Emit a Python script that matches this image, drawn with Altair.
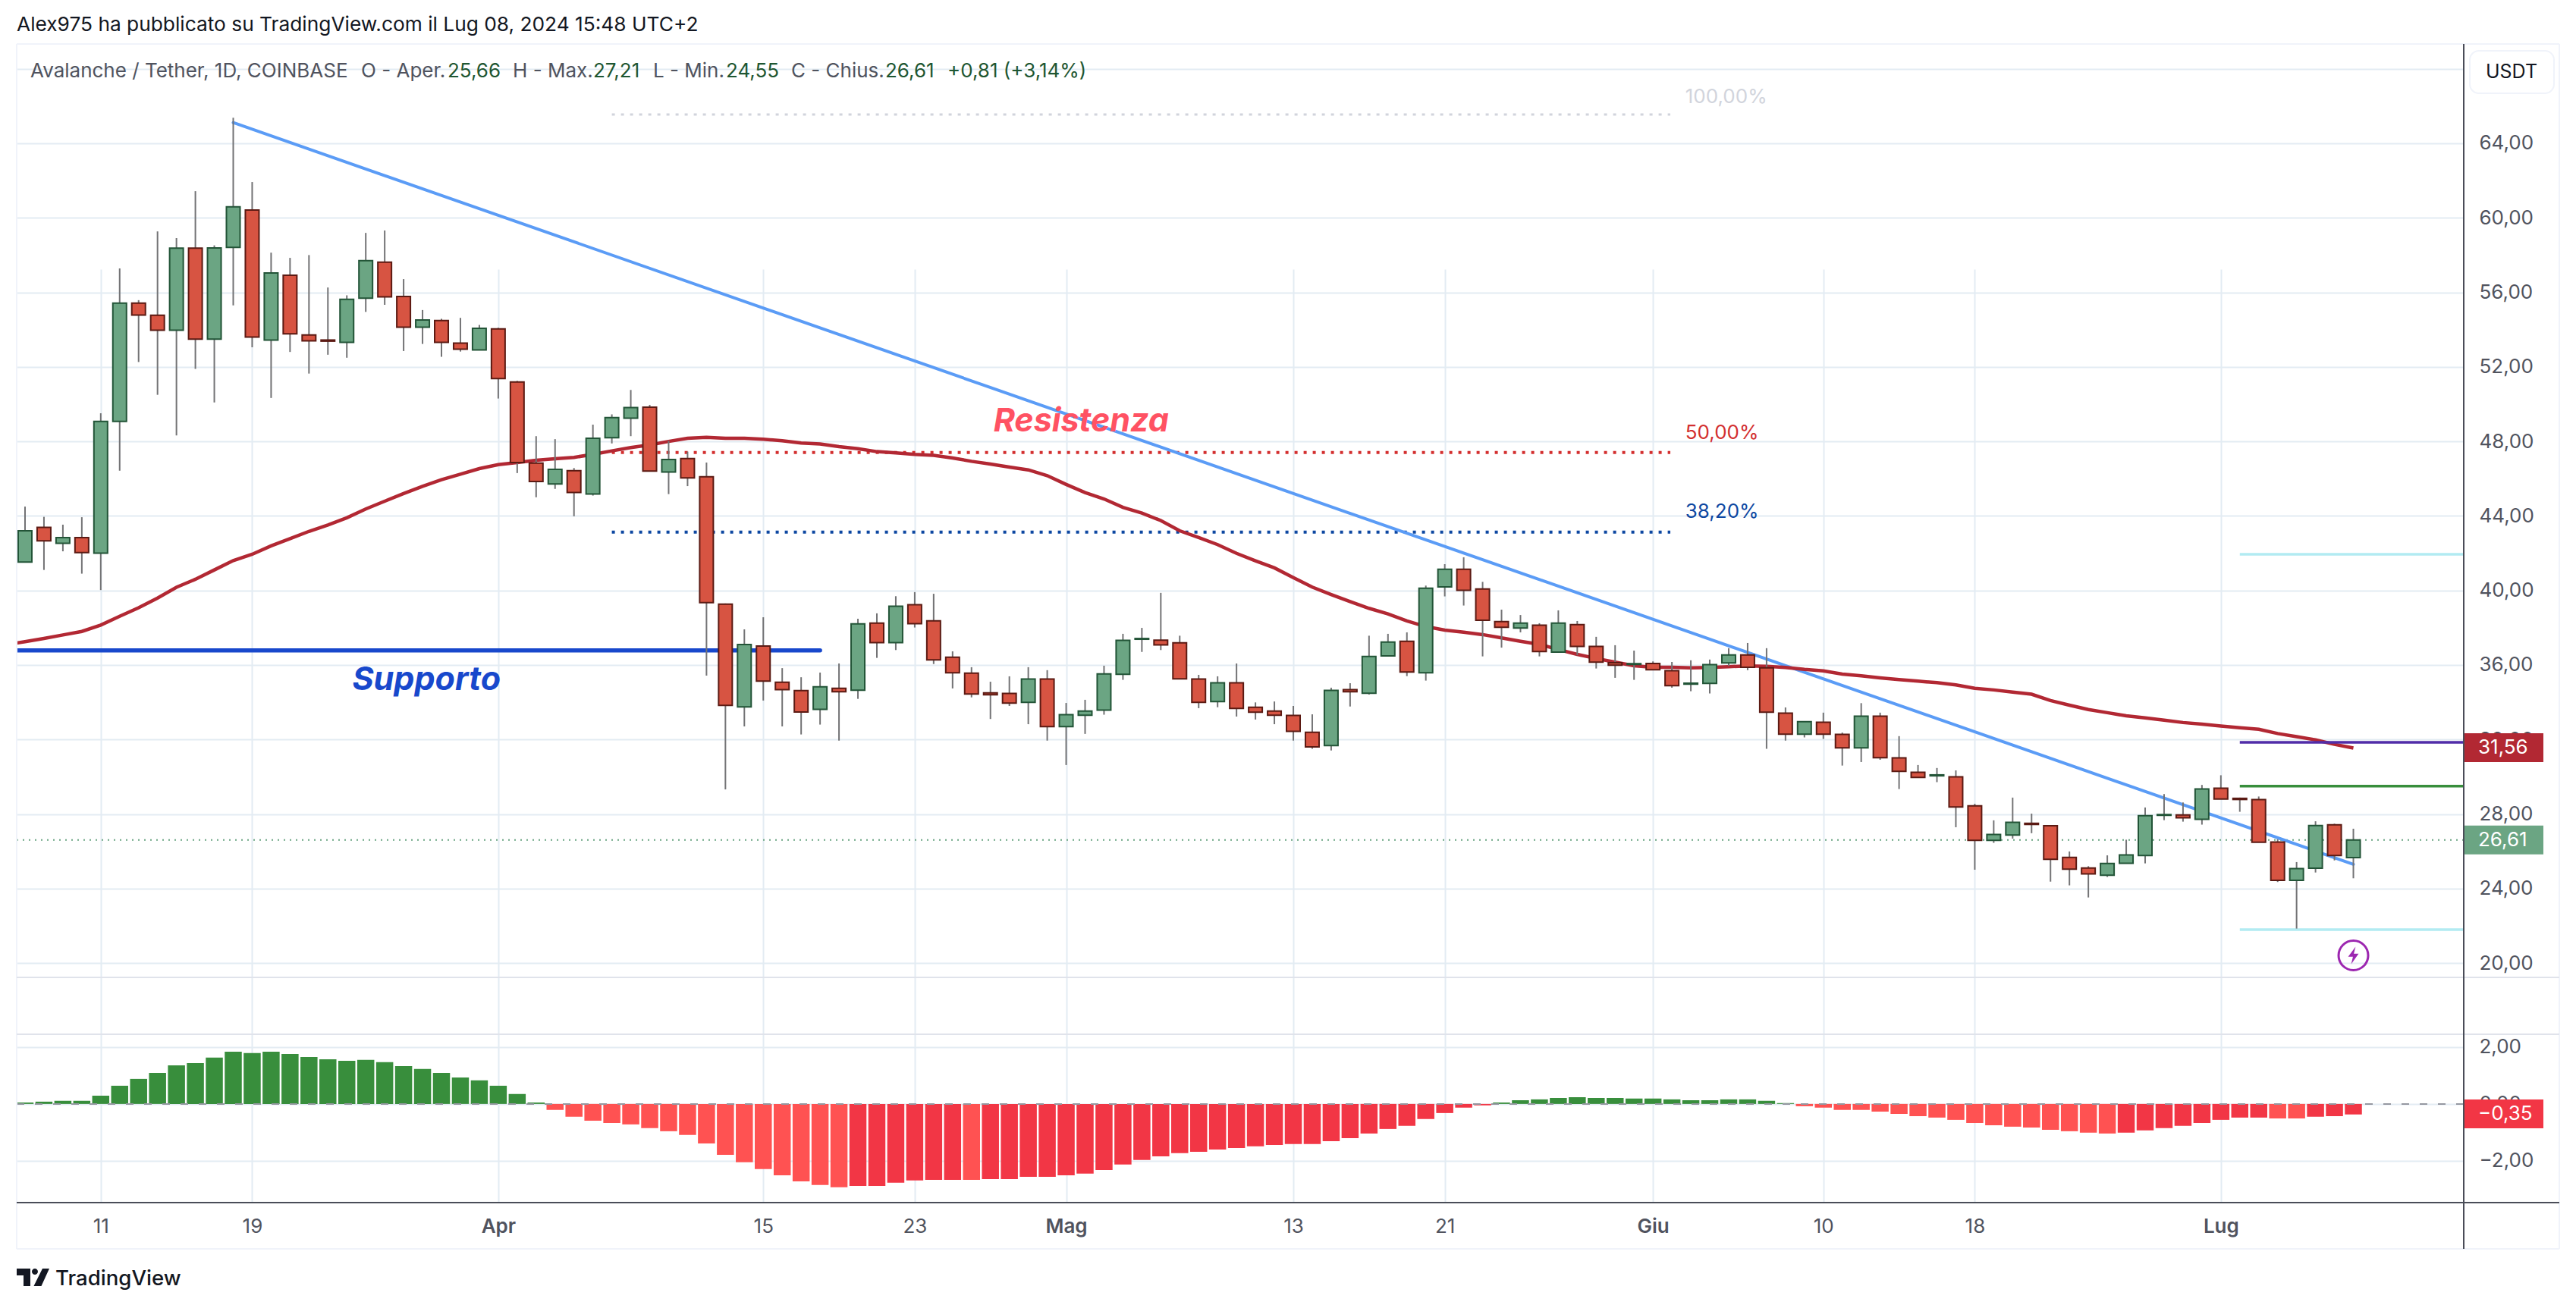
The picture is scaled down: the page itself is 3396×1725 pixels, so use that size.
import altair as alt
import pandas as pd

FIRST_DAY = "2024-03-06"
OPEN = [41.52,43.38,42.53,42.84,42.0,49.07,55.42,54.77,53.97,58.37,53.49,58.41,60.42,53.44,56.92,53.71,53.44,53.32,55.69,57.62,55.78,54.13,54.49,53.27,52.91,54.04,51.19,46.83,45.71,46.43,45.18,48.2,49.25,49.84,46.36,47.08,46.1,39.26,33.75,37.02,35.07,34.62,33.62,34.75,34.64,38.25,37.2,39.23,38.37,36.42,35.56,34.5,34.47,33.99,35.24,32.69,33.3,33.58,35.5,37.38,37.33,37.19,35.24,34.03,35.04,33.73,33.53,33.29,32.39,31.67,34.68,34.48,36.49,37.27,35.58,40.19,41.14,40.08,38.33,37.98,38.13,36.69,38.17,36.99,36.12,36.03,36.08,35.69,34.97,35.01,36.11,36.54,35.85,33.41,32.28,32.92,32.27,31.55,33.25,31.01,30.24,30.05,29.99,28.44,26.59,26.87,27.5,27.37,25.67,25.1,24.71,25.36,25.77,27.93,27.95,27.72,29.38,28.84,28.77,26.49,24.44,25.09,27.42,25.66]
HIGH = [44.5,43.95,43.53,43.93,49.51,57.28,55.58,59.27,58.91,61.43,58.52,65.37,61.92,58.13,57.85,58.0,56.26,55.84,59.19,59.32,56.71,55.05,54.58,54.63,54.25,54.1,51.25,48.28,48.12,46.57,48.9,49.45,50.76,49.96,48.03,47.45,46.86,39.3,37.91,38.56,35.83,35.34,35.59,36.08,38.48,38.77,39.69,39.91,39.82,36.73,35.88,35.1,35.39,35.88,35.72,33.96,34.13,35.96,37.67,37.99,39.87,37.57,35.47,35.39,36.08,33.99,34.04,33.8,33.35,34.78,35.02,37.57,37.67,37.75,40.26,41.41,41.78,40.46,38.97,38.68,38.24,38.93,38.36,37.51,37.06,36.77,36.19,36.16,36.25,36.29,36.9,37.18,36.9,33.72,32.96,33.44,32.37,33.95,33.44,32.18,30.63,30.47,30.34,28.55,27.66,28.88,28.02,27.37,25.99,25.2,25.78,26.62,28.35,29.07,28.62,29.56,30.08,28.88,28.94,26.64,25.42,27.61,27.48,27.21]
LOW = [41.52,41.1,42.1,40.9,40.02,46.43,52.26,50.5,48.32,51.89,50.09,55.3,53.05,50.33,52.8,51.64,52.65,52.49,54.95,55.33,52.85,53.23,52.54,52.82,52.91,50.3,46.3,45.0,45.45,43.98,45.09,47.89,48.28,46.41,45.17,45.6,35.43,29.32,32.7,34.09,32.7,32.27,32.8,31.94,34.18,36.38,36.8,38.01,36.05,34.74,34.26,33.1,33.8,32.82,31.94,30.63,32.3,33.33,35.2,36.7,36.8,35.25,33.68,33.73,33.23,33.07,32.82,31.94,31.5,31.41,33.77,34.41,36.49,35.4,35.16,39.68,39.19,36.46,36.93,37.75,36.46,36.69,36.52,35.81,35.31,35.2,35.74,34.78,34.59,34.47,35.95,35.72,31.5,31.94,32.11,32.03,30.6,30.79,30.91,29.34,29.96,29.71,27.29,25.01,26.45,26.68,26.97,24.37,24.17,23.52,24.62,25.36,25.35,27.67,27.59,27.43,28.8,28.12,26.48,24.35,21.85,24.86,25.51,24.55]
CLOSE = [43.2,42.66,42.84,42.03,49.07,55.42,54.78,53.97,58.37,53.49,58.38,60.59,53.6,57.04,53.77,53.4,53.38,55.62,57.7,55.76,54.13,54.52,53.32,52.95,54.07,51.37,46.86,45.85,46.5,45.26,48.17,49.28,49.81,46.41,47.03,46.04,39.35,33.83,37.1,35.13,34.68,33.47,34.83,34.56,38.21,37.2,39.15,38.22,36.27,35.58,34.44,34.4,33.95,35.24,32.69,33.33,33.53,35.52,37.32,37.42,37.08,35.25,33.99,35.04,33.67,33.46,33.3,32.44,31.6,34.63,34.56,36.46,37.23,35.62,40.12,41.14,40.01,38.4,38.02,38.25,36.72,38.25,37.0,36.15,35.99,36.07,35.74,34.89,35.02,36.02,36.54,35.88,33.46,32.28,32.96,32.28,31.55,33.25,31.02,30.29,29.96,30.1,28.38,26.59,26.9,27.55,27.44,25.57,25.04,24.79,25.35,25.8,27.91,27.97,27.8,29.34,28.8,28.78,26.48,24.44,25.07,27.38,25.77,26.61]
MA = [37.08,37.25,37.42,37.61,37.8,38.14,38.61,39.07,39.59,40.17,40.6,41.1,41.6,41.94,42.39,42.78,43.17,43.51,43.9,44.37,44.79,45.2,45.59,45.94,46.24,46.54,46.75,46.86,46.99,47.07,47.14,47.3,47.49,47.67,47.81,48.0,48.17,48.22,48.17,48.17,48.12,48.03,47.91,47.86,47.72,47.61,47.45,47.38,47.3,47.25,47.11,46.93,46.78,46.62,46.47,46.16,45.69,45.25,44.91,44.46,44.15,43.75,43.2,42.84,42.46,41.99,41.59,41.21,40.69,40.18,39.78,39.4,39.04,38.74,38.36,38.06,37.87,37.76,37.63,37.45,37.27,37.11,36.83,36.57,36.35,36.15,35.96,35.88,35.88,35.85,35.87,35.91,35.95,35.93,35.87,35.76,35.68,35.51,35.42,35.31,35.21,35.13,35.05,34.93,34.75,34.66,34.54,34.43,34.09,33.84,33.61,33.44,33.27,33.16,33.04,32.91,32.82,32.72,32.63,32.55,32.32,32.15,31.98,31.74,31.54]
HIST = [.05,.08,.11,.11,.29,.64,.88,1.09,1.36,1.44,1.63,1.84,1.79,1.84,1.76,1.65,1.57,1.52,1.55,1.47,1.33,1.23,1.09,.93,.83,.64,.35,.05,-.21,-.45,-.59,-.67,-.72,-.85,-.96,-1.09,-1.39,-1.79,-2.05,-2.29,-2.51,-2.72,-2.85,-2.93,-2.88,-2.88,-2.77,-2.69,-2.67,-2.67,-2.67,-2.64,-2.64,-2.56,-2.56,-2.51,-2.45,-2.32,-2.13,-1.97,-1.84,-1.73,-1.68,-1.6,-1.55,-1.49,-1.44,-1.41,-1.41,-1.31,-1.2,-1.04,-.88,-.77,-.53,-.32,-.13,-.05,.05,.13,.16,.21,.24,.21,.21,.19,.19,.16,.13,.13,.16,.16,.11,.03,-.08,-.13,-.21,-.21,-.27,-.35,-.43,-.48,-.56,-.67,-.75,-.8,-.83,-.91,-.96,-1.01,-1.04,-1.01,-.93,-.85,-.77,-.67,-.56,-.48,-.48,-.51,-.51,-.45,-.43,-.37]
TICK_DATES = ["2024-03-11","2024-03-19","2024-04-01","2024-04-15","2024-04-23","2024-05-01","2024-05-13","2024-05-21","2024-06-01","2024-06-10","2024-06-18","2024-07-01"]
TICK_LABELS = ["11","19","Apr","15","23","Mag","13","21","Giu","10","18","Lug"]
PRICE_TICKS = [20,24,28,32,36,40,44,48,52,56,60,64,68]
OSC_TICKS = [-2,0,2]

days = [str(d.date()) for d in pd.date_range(FIRST_DAY, periods=125)]
iso = lambda d: d + "T00:00:00Z"
DOMAIN = ["2024-03-06T13:26:00Z", "2024-07-13T19:55:00Z"]

cd = pd.DataFrame({"date": [iso(d) for d in days[1:]], "open": OPEN, "high": HIGH, "low": LOW, "close": CLOSE})
cd["kind"] = ["up" if c >= o else "down" for o, c in zip(OPEN, CLOSE)]
ma = pd.DataFrame({"date": [iso(d) for d in days], "ma": MA})

# histogram shade: dark when rising towards zero, light when falling away
falling = set(range(24, 40)) | {46} | set(range(90, 107)) | {115, 116}
hd = pd.DataFrame({"date": [iso(d) for d in days[1:]], "v": HIST, "zero": [0.0] * len(HIST)})
hd["kind"] = ["pos" if v > 0 else ("fall" if i - 4 in falling else "rise") for i, v in enumerate(HIST)]

W, H = 3226, 1528
FONT = "Inter"
GRID = "#E3ECF3"
TXT = "#50535E"
GREEN_T = "#1E5631"

xscale = alt.Scale(type="utc", domain=DOMAIN, padding=0)
pscale = alt.Scale(domain=[19.23, 69.33], range=[1231, 0], zero=False, nice=False)
oscale = alt.Scale(domain=[-3.47, 2.45], range=[1528, 1306], zero=False, nice=False)
kinds = alt.Scale(domain=["up", "down", "pos", "rise", "fall"], range=["#6BA583", "#D75442", "#388E3C", "#F23645", "#FF5252"])
edges = alt.Scale(domain=["up", "down"], range=["#225437", "#5B1A13"])

js_map = "{" + ",".join(f"'{d}':'{l}'" for d, l in zip(TICK_DATES, TICK_LABELS)) + "}"
x_axis = alt.Axis(values=[iso(d) for d in TICK_DATES], labelExpr=js_map + "[utcFormat(datum.value,'%Y-%m-%d')]",
                  grid=True, gridColor=GRID, gridWidth=2, domain=False, ticks=False, title=None,
                  labelFont=FONT, labelFontSize=26, labelColor=TXT, labelPadding=18, labelOverlap=False, labelFlush=False, labelBound=False,
                  labelFontWeight={"condition": {"test": "utcdate(datum.value)==1", "value": 600}, "value": 400})
p_axis = alt.Axis(values=PRICE_TICKS, labelExpr="datum.value==68?'':replace(format(datum.value,'.2f'),'.',',')", orient="right",
                  grid=True, gridColor=GRID, gridWidth=2, domain=False, ticks=False, title=None,
                  labelFont=FONT, labelFontSize=26, labelColor=TXT, labelPadding=20, labelOverlap=False, labelBound=False)
o_axis = alt.Axis(values=OSC_TICKS, labelExpr="replace(replace(format(datum.value,'.2f'),'.',','),'-','\u2212')", orient="right",
                  grid=True, gridColor=GRID, gridWidth=2, domain=False, ticks=False, title=None,
                  labelFont=FONT, labelFontSize=26, labelColor=TXT, labelPadding=20, labelOverlap=False, labelBound=False)

X = lambda f="date": alt.X(f + ":T", scale=xscale, axis=x_axis, title=None)
P = lambda f: alt.Y(f + ":Q", scale=pscale, axis=None, title=None)
O = lambda f: alt.Y(f + ":Q", scale=oscale, axis=None, title=None)
ONE = alt.Data(values=[{}])

def hline(y, x1, x2, color, w=2):
    return alt.Chart(ONE).mark_rule(color=color, strokeWidth=w).encode(x=alt.value(x1), x2=alt.value(x2), y=alt.value(y))

def vline(x, y1, y2, color, w=2):
    return alt.Chart(ONE).mark_rule(color=color, strokeWidth=w).encode(x=alt.value(x), y=alt.value(y1), y2=alt.value(y2))

def label(text, x, y, color=TXT, size=26, weight=400, align="left", italic=False):
    return alt.Chart(ONE).mark_text(text=text, font=FONT, fontSize=size, fontWeight=weight, color=color, align=align,
                                    baseline="middle", fontStyle="italic" if italic else "normal").encode(x=alt.value(x), y=alt.value(y))

def segment(d1, d2, p1, p2, color, w, dash=None, cap="butt"):
    df = pd.DataFrame({"date": [d1, d2], "p": [p1, p2]})
    kw = {"strokeDash": dash} if dash else {}
    return alt.Chart(df).mark_line(color=color, strokeWidth=w, strokeCap=cap, clip=True, **kw).encode(x=X(), y=P("p"))

def anno(text, d, p, color, size=26, weight=400, italic=False, align="left"):
    df = pd.DataFrame({"date": [d], "p": [p]})
    return alt.Chart(df).mark_text(text=text, font=FONT, fontSize=size, fontWeight=weight, color=color, align=align,
                                   baseline="middle", fontStyle="italic" if italic else "normal").encode(x=X(), y=P("p"))

def tag(text, v, color, scale_enc):
    df = pd.DataFrame({"v": [v]})
    r = alt.Chart(df).mark_rule(color=color, strokeWidth=38, strokeCap="butt").encode(x=alt.value(W), x2=alt.value(W + 105), y=scale_enc("v"))
    t = alt.Chart(df).mark_text(text=text, font=FONT, fontSize=26, color="#FFFFFF", align="left", baseline="middle").encode(x=alt.value(W + 19), y=scale_enc("v"))
    return [r, t]

END = DOMAIN[1]
S = iso("2024-07-02")
FA, FB = iso("2024-04-07"), "2024-06-01T22:00:00Z"

price_layers = [
    segment(DOMAIN[0], END, 26.61, 26.61, "#6BA583", 2, [2, 6]),
    segment(FA, FB, 65.55, 65.55, "#D1D4DC", 3, [4, 8]),
    segment(FA, FB, 47.4, 47.4, "#D32F2F", 4, [4, 8]),
    segment(FA, FB, 43.13, 43.13, "#0D47A1", 4, [4, 8]),
    segment(DOMAIN[0], iso("2024-04-18"), 36.78, 36.78, "#1848CC", 5.5, cap="round"),
    segment(iso("2024-03-18"), iso("2024-07-08"), 65.11, 25.3, "#5B9CF6", 4, cap="round"),
    alt.Chart(ma).mark_line(color="#B22833", strokeWidth=4.5, clip=True).encode(x=X(), y=P("ma")),
    segment(S, END, 41.94, 41.94, "#B2EBF2", 3.5),
    segment(S, END, 31.85, 31.85, "#512DA8", 3.5),
    segment(S, END, 29.5, 29.5, "#388E3C", 3.5),
    segment(S, END, 21.79, 21.79, "#B2EBF2", 3.5),
    alt.Chart(cd).mark_rule(color="#737375", strokeWidth=2).encode(
        x=X(), y=alt.Y("low:Q", scale=pscale, axis=p_axis, title=None), y2="high:Q"),
    alt.Chart(cd).mark_bar(size=18, strokeWidth=2).encode(
        x=X(), y=P("open"), y2="close:Q",
        color=alt.Color("kind:N", scale=kinds, legend=None),
        stroke=alt.Stroke("kind:N", scale=edges, legend=None)),
    anno("100,00%", "2024-06-02T17:00:00Z", 66.5, "#D1D4DC"),
    anno("50,00%", "2024-06-02T17:00:00Z", 48.45, "#D32F2F"),
    anno("38,20%", "2024-06-02T17:00:00Z", 44.2, "#0D47A1"),
    anno("Supporto", "2024-03-28T05:00:00Z", 35.18, "#1848CC", size=43, weight=700, italic=True, align="center"),
    anno("Resistenza", "2024-05-01T19:00:00Z", 49.05, "#FF5263", size=43, weight=700, italic=True, align="center"),
    alt.Chart(pd.DataFrame({"date": [iso("2024-07-08")], "p": [20.41]})).mark_point(
        shape="circle", size=1520, filled=False, color="#9C27B0", strokeWidth=3, opacity=1).encode(x=X(), y=P("p")),
    alt.Chart(pd.DataFrame({"date": [iso("2024-07-08")], "p": [20.41]})).mark_point(
        shape="M0.25,-1L-0.6,0.15L-0.05,0.15L-0.25,1L0.6,-0.2L0.05,-0.2Z", size=529, filled=True, color="#9C27B0", opacity=1, strokeWidth=0).encode(x=X(), y=P("p")),
] + tag("31,56", 31.56, "#B22833", P) + tag("26,61", 26.61, "#6BA583", P)

osc_layers = [
    alt.Chart(hd).mark_bar(size=22.5).encode(
        x=X(), y=alt.Y("v:Q", scale=oscale, axis=o_axis, title=None), y2="zero:Q",
        color=alt.Color("kind:N", scale=kinds, legend=None)),
    alt.Chart(pd.DataFrame({"date": DOMAIN, "z": [0, 0]})).mark_line(color="#9598A1", strokeWidth=2, strokeDash=[10, 14]).encode(x=X(), y=O("z")),
] + tag("\u22120,35", -0.35, "#F23645", O)

LOGO = ("M-1,-0.535L-0.163,-0.535L-0.163,0.535L-0.581,0.535L-0.581,-0.116L-1,-0.116Z"
        "M0.302,-0.349A0.186,0.186,0,1,1,-0.07,-0.349A0.186,0.186,0,1,1,0.302,-0.349Z"
        "M0.581,-0.535L1,-0.535L0.512,0.535L0.047,0.535Z")

chrome = [
    hline(0, 0, 3352, "#F0F3FA"), hline(1589, 0, 3352, "#F0F3FA"),
    vline(0, 0, 1589, "#F0F3FA"), vline(3352, 0, 1589, "#F0F3FA"),
    hline(1231, 0, 3352, "#E0E3EB"), hline(1306, 0, 3352, "#E0E3EB"),
    hline(H, 0, 3352, "#4A4D58"), vline(W, 0, 1589, "#4A4D58"),
    alt.Chart(ONE).mark_rect(fill="#FFFFFF", stroke="#F0F3FA", strokeWidth=2, cornerRadius=12).encode(
        x=alt.value(3234), x2=alt.value(3345), y=alt.value(9), y2=alt.value(65)),
    label("USDT", 3289, 37, color="#131722", size=25, align="center"),
    label("Alex975 ha pubblicato su TradingView.com il Lug 08, 2024 15:48 UTC+2", 0, -25, color="#131722", size=26.3),
    label("Avalanche / Tether, 1D, COINBASE", 18, 36),
    label("O - Aper.", 454, 36), label("25,66", 568, 36, color=GREEN_T),
    label("H - Max.", 654, 36), label("27,21", 760, 36, color=GREEN_T),
    label("L - Min.", 839, 36), label("24,55", 935, 36, color=GREEN_T),
    label("C - Chius.", 1021, 36), label("26,61", 1145, 36, color=GREEN_T),
    label("+0,81 (+3,14%)", 1227, 36, color=GREEN_T),
    label("TradingView", 51, 1629, color="#131722", size=27.6, weight=500),
    alt.Chart(ONE).mark_point(shape=LOGO, size=1849, filled=True, color="#131722", opacity=1, strokeWidth=0).encode(
        x=alt.value(21.5), y=alt.value(1626.5)),
]

chart = alt.layer(*price_layers, *osc_layers, *chrome).resolve_scale(y="independent").properties(
    width=W, height=H, background="#FFFFFF",
    padding={"left": 10, "top": 12, "right": 0, "bottom": 0},
).configure_view(stroke=None)

chart.save("out.html", embed_options={"renderer": "svg", "actions": False})
